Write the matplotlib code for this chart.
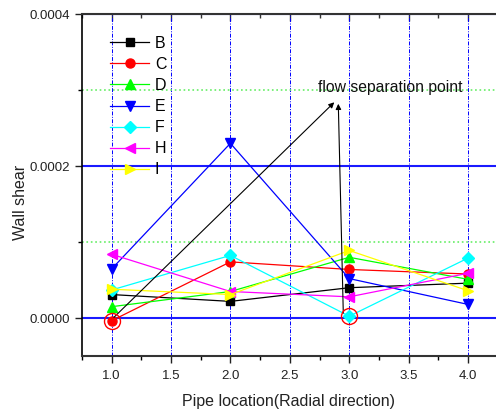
import matplotlib
matplotlib.use('Agg')
import matplotlib.pyplot as plt
from matplotlib.ticker import MultipleLocator, FormatStrFormatter

plt.rcParams['font.family'] = ['Liberation Sans', 'DejaVu Sans']

# pipe locations and wall shear per case
location = [1.0, 2.0, 3.0, 4.0]
B = [3.1e-5, 2.2e-5, 4.0e-5, 4.6e-5]
C = [-3.5e-6, 7.4e-5, 6.4e-5, 5.8e-5]
D = [1.5e-5, 3.5e-5, 8.0e-5, 5.1e-5]
E = [6.45e-5, 2.30e-4, 5.2e-5, 1.8e-5]
F = [3.7e-5, 8.25e-5, 2.5e-6, 7.9e-5]
H = [8.4e-5, 3.5e-5, 2.8e-5, 5.9e-5]
I = [3.8e-5, 3.1e-5, 8.9e-5, 3.6e-5]

series = [('B', B, 'black', 's', 5.5),
          ('C', C, 'red', 'o', 6.5),
          ('D', D, '#00ff00', '^', 6.5),
          ('E', E, 'blue', 'v', 6.5),
          ('F', F, 'cyan', 'D', 6),
          ('H', H, 'magenta', '<', 6.5),
          ('I', I, 'yellow', '>', 6.5)]

# circled separation points
sep_x = [1.0, 3.0]
sep_y = [C[0], F[2]]

fig = plt.figure(figsize=(4.96, 4.16), dpi=100)
ax = fig.add_axes([0.165, 0.144, 0.835, 0.822])

for name, vals, col, mk, ms in series:
    ax.plot(location, vals, color=col, marker=mk, ms=ms, lw=0.9, label=name, zorder=3)

ax.plot(sep_x, sep_y, ls='none', marker='o', ms=11.5, mfc='none', mec='red', mew=1.0, zorder=4)

# arrows to the label
ax.annotate('', xy=(2.874, 2.84e-4), xytext=(1.02, 1e-6),
            arrowprops=dict(arrowstyle='-|>', color='black', lw=0.8, mutation_scale=8, shrinkA=0, shrinkB=0))
ax.annotate('', xy=(2.908, 2.82e-4), xytext=(2.95, 6.6e-6),
            arrowprops=dict(arrowstyle='-|>', color='black', lw=0.8, mutation_scale=8, shrinkA=0, shrinkB=0))
ax.text(2.74, 3.03e-4, 'flow separation point', fontsize=11.3, va='center', ha='left', color='#111111')

ax.set_xlim(0.75, 4.235)
ax.set_ylim(-0.00005, 0.0004)
ax.xaxis.set_major_locator(MultipleLocator(0.5))
ax.xaxis.set_minor_locator(MultipleLocator(0.25))
ax.yaxis.set_major_locator(MultipleLocator(0.0002))
ax.yaxis.set_minor_locator(MultipleLocator(0.0001))
ax.xaxis.set_major_formatter(FormatStrFormatter('%.1f'))
ax.yaxis.set_major_formatter(FormatStrFormatter('%.4f'))

ax.grid(which='major', axis='x', color='blue', ls=(0, (4, 1.5, 1, 1.5)), lw=0.7)
ax.grid(which='major', axis='y', color='#1a1aff', ls='-', lw=1.5)
ax.grid(which='minor', axis='y', color='#66ee66', ls=':', lw=1.2)
ax.set_axisbelow(True)

ax.spines['right'].set_visible(False)
ax.spines['top'].set_color('#333333')
ax.spines['top'].set_linewidth(1.5)
ax.spines['top'].set_zorder(5)
ax.spines['bottom'].set_color('#333333')
ax.spines['bottom'].set_linewidth(1.5)
ax.spines['left'].set_color('black')
ax.spines['left'].set_linewidth(1.2)

ax.tick_params(axis='both', which='major', length=5, width=1, labelsize=9.5, colors='#222222')
ax.tick_params(axis='both', which='minor', length=3, width=1)
ax.tick_params(axis='x', which='major', pad=5)

# top axis with inward ticks, no labels
sec = ax.secondary_xaxis('top')
sec.set_xticks([1.0, 1.5, 2.0, 2.5, 3.0, 3.5, 4.0])
sec.xaxis.set_minor_locator(MultipleLocator(0.25))
sec.tick_params(which='major', direction='in', length=5, width=1, labeltop=False, colors='#333333')
sec.tick_params(which='minor', direction='in', length=3, width=1, colors='#333333')
sec.spines['top'].set_visible(False)

ax.set_xlabel('Pipe location(Radial direction)', fontsize=11.5, color='#222222', labelpad=9)
ax.set_ylabel('Wall shear', fontsize=11.5, color='#222222')
ax.yaxis.set_label_coords(-0.13, 0.45)

ax.legend(loc='upper left', bbox_to_anchor=(0.053, 0.955), frameon=False, fontsize=11.5,
          handlelength=2.45, handletextpad=0.35, labelspacing=0.38, borderaxespad=0)

fig.savefig('out.png', dpi=100)
